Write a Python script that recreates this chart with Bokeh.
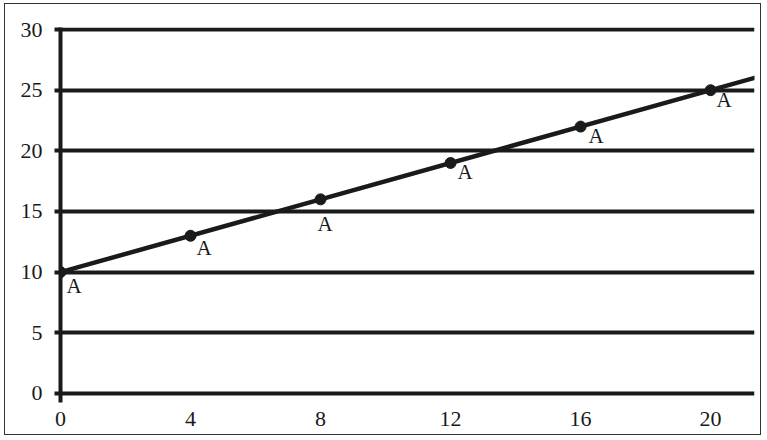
from bokeh.plotting import figure
from bokeh.models import ColumnDataSource, FixedTicker, Range1d, Slope
from bokeh.core.properties import value
from bokeh.embed import file_html
from bokeh.resources import INLINE

# data
x_vals = [0, 4, 8, 12, 16, 20]
y_vals = [10, 13, 16, 19, 22, 25]
point_labels = ["A", "A", "A", "A", "A", "A"]
x_ticks = [0, 4, 8, 12, 16, 20]
y_ticks = [0, 5, 10, 15, 20, 25, 30]

# label placement (pixels, relative to each point)
label_dx = [6, 6, -3, 7, 8, 6]
label_dy = [14, 12, 25, 9, 9, 10]

INK = "#1a1a1a"
FONT = "Liberation Serif"

src = ColumnDataSource(dict(x=x_vals, y=y_vals, label=point_labels,
                            dx=label_dx, dy=label_dy))

p = figure(width=757, height=432,
           x_range=Range1d(0, 21.35), y_range=Range1d(-0.75, 30.17),
           min_border_left=55, min_border_right=8, min_border_top=23,
           min_border_bottom=34,
           output_backend="svg", toolbar_location=None,
           background_fill_color="white", border_fill_color="white")
p.styles = {"border": "1px solid #333333", "margin-left": "4px",
            "margin-top": "3px"}
p.outline_line_color = None

# grid
p.xgrid.grid_line_color = None
p.ygrid.grid_line_color = INK
p.ygrid.grid_line_width = 4
p.ygrid.ticker = FixedTicker(ticks=y_ticks)

# y axis
p.yaxis.ticker = FixedTicker(ticks=y_ticks)
p.yaxis.axis_line_color = INK
p.yaxis.axis_line_width = 4
p.yaxis.major_tick_line_color = INK
p.yaxis.major_tick_line_width = 4
p.yaxis.major_tick_out = 6
p.yaxis.major_tick_in = 0
p.yaxis.minor_tick_line_color = None
p.yaxis.major_label_standoff = 12
p.yaxis.major_label_text_font = FONT
p.yaxis.major_label_text_font_size = "22px"
p.yaxis.major_label_text_color = INK

# x axis (the 0 gridline acts as its line)
p.xaxis.ticker = FixedTicker(ticks=x_ticks)
p.xaxis.axis_line_color = None
p.xaxis.major_tick_line_color = None
p.xaxis.minor_tick_line_color = None
p.xaxis.major_tick_out = 0
p.xaxis.major_label_standoff = 9
p.xaxis.major_label_text_font = FONT
p.xaxis.major_label_text_font_size = "22px"
p.xaxis.major_label_text_color = INK

# trend line through the points, running to the frame edge
gradient = (y_vals[-1] - y_vals[0]) / (x_vals[-1] - x_vals[0])
p.add_layout(Slope(gradient=gradient, y_intercept=y_vals[0],
                   line_color=INK, line_width=4.5))

p.scatter("x", "y", source=src, size=11, color=INK)
p.text("x", "y", text="label", source=src, x_offset="dx", y_offset="dy",
       text_font=value(FONT), text_font_size="21px", text_color=INK,
       text_align="left", text_baseline="alphabetic")

open("out.html", "w").write(file_html(p, INLINE))
